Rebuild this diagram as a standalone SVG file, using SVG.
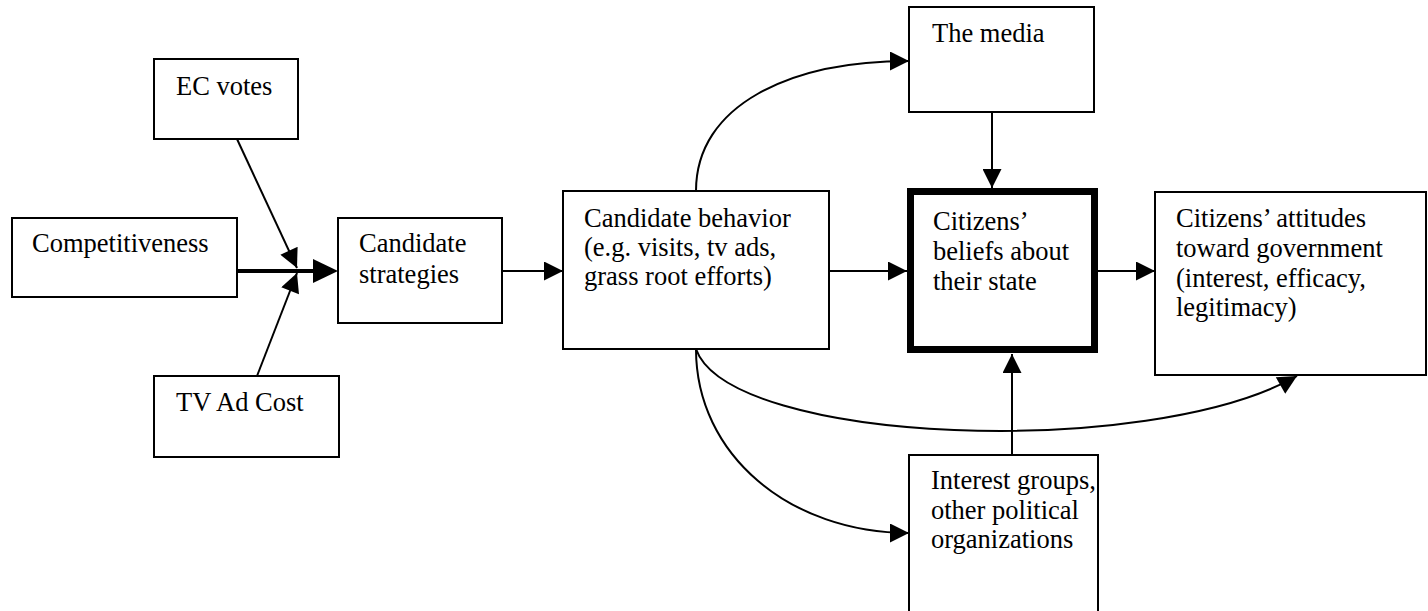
<svg xmlns="http://www.w3.org/2000/svg" width="1428" height="611" viewBox="0 0 1428 611">
<style>
.box{fill:#fff;stroke:#000;stroke-width:2}
.thick{fill:#fff;stroke:#000;stroke-width:7}
.c{fill:none;stroke:#000;stroke-width:2}
</style>
<defs>
<marker id="a" viewBox="0 0 20 20" refX="20" refY="10" markerWidth="20" markerHeight="19" orient="auto" markerUnits="userSpaceOnUse">
<path d="M0,0 L20,10 L0,20 Z" fill="#000"/>
</marker>
</defs>
<g id="connectors">
<line class="c" x1="237" y1="139" x2="297" y2="268" marker-end="url(#a)"/>
<line class="c" x1="257" y1="376" x2="297" y2="273" marker-end="url(#a)"/>
<line x1="237" y1="271" x2="315" y2="271" stroke="#000" stroke-width="4"/>
<path d="M313,259 L338,271 L313,283 Z" fill="#000"/>
<line class="c" x1="502" y1="271" x2="563" y2="271" marker-end="url(#a)"/>
<line class="c" x1="829" y1="271" x2="907" y2="271" marker-end="url(#a)"/>
<line class="c" x1="1098" y1="271" x2="1155" y2="271" marker-end="url(#a)"/>
<line class="c" x1="992" y1="112" x2="992" y2="188" marker-end="url(#a)"/>
<line class="c" x1="1012" y1="455" x2="1012" y2="354" marker-end="url(#a)"/>
<path class="c" d="M696,191 C696,105 790,61 909,61" marker-end="url(#a)"/>
<path class="c" d="M696,349 C696,455 790,533 909,533" marker-end="url(#a)"/>
<path class="c" d="M696,349 C730,445 1150,460 1297,376" marker-end="url(#a)"/>
</g>
<g font-family="'Liberation Serif', 'Times New Roman', serif" font-size="26.5" fill="#000">
<g id="ec-votes"><rect class="box" x="154" y="59" width="144" height="80"/><text x="176" y="95">EC votes</text></g>
<g id="competitiveness"><rect class="box" x="12" y="218" width="225" height="79"/><text x="32" y="252">Competitiveness</text></g>
<g id="tv-ad-cost"><rect class="box" x="154" y="376" width="185" height="81"/><text x="176" y="411">TV Ad Cost</text></g>
<g id="candidate-strategies"><rect class="box" x="338" y="218" width="164" height="105"/><text x="359" y="252">Candidate</text><text x="359" y="283">strategies</text></g>
<g id="candidate-behavior"><rect class="box" x="563" y="191" width="266" height="158"/><text x="584" y="227">Candidate behavior</text><text x="584" y="256">(e.g. visits, tv ads,</text><text x="584" y="285">grass root efforts)</text></g>
<g id="the-media"><rect class="box" x="909" y="7" width="185" height="105"/><text x="932" y="42">The media</text></g>
<g id="citizens-beliefs"><rect class="thick" x="910.5" y="191.5" width="184" height="158"/><text x="933" y="230">Citizens’</text><text x="933" y="260">beliefs about</text><text x="933" y="290">their state</text></g>
<g id="citizens-attitudes"><rect class="box" x="1155" y="192" width="271" height="183"/><text x="1176" y="227">Citizens’ attitudes</text><text x="1176" y="257">toward government</text><text x="1176" y="287">(interest, efficacy,</text><text x="1176" y="316">legitimacy)</text></g>
<g id="interest-groups"><rect class="box" x="909" y="455" width="189" height="170"/><text x="931" y="489">Interest groups,</text><text x="931" y="519">other political</text><text x="931" y="548">organizations</text></g>
</g>
</svg>
